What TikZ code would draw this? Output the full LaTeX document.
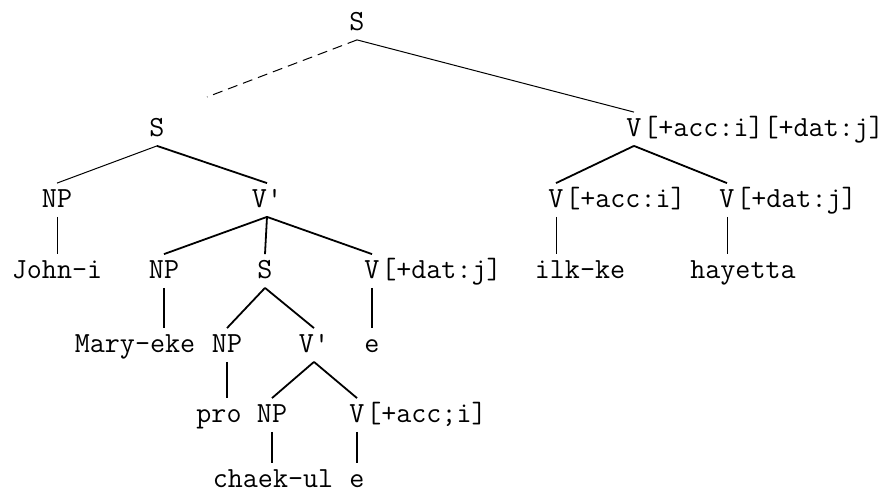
\documentclass[tikz,border=0pt]{standalone}
\usepackage{tikz}

\begin{document}
\begin{tikzpicture}[x=0.5pt,y=-0.5pt,line width=0.9pt,
tree node/.style={inner xsep=0pt,inner ysep=1pt,text height=11pt,text depth=3pt,font=\fontsize{14.6}{17}\ttfamily},
last node/.style={tree node,text depth=0pt},
feat/.style={tree node,label distance=0pt},
faint/.style={line width=0.5pt}]
\useasboundingbox (0,0) rectangle (890,496);

\node[tree node] (1) at (357,23) {S};
\node[tree node] (2) at (157,129) {S};
\node[tree node,label={[feat]east:{[+acc:i][+dat:j]}}] (3) at (634,129) {V};
\node[tree node] (4) at (57,200) {NP};
\node[tree node] (5) at (267,200) {V'};
\node[tree node,label={[feat]east:{[+acc:i]}}] (6) at (556,200) {V};
\node[tree node,label={[feat]east:{[+dat:j]}}] (7) at (727,200) {V};
\node[tree node] (8) at (57,271) {John-i};
\node[tree node] (9) at (164,271) {NP};
\node[tree node] (10) at (265,271) {S};
\node[tree node,label={[feat]east:{[+dat:j]}}] (11) at (372,271) {V};
\node[tree node] (12) at (580,271) {ilk-ke};
\node[tree node] (13) at (743,271) {hayetta};
\node[tree node] (14) at (135,345) {Mary-eke};
\node[tree node] (15) at (227,345) {NP};
\node[tree node] (16) at (314,345) {V'};
\node[tree node] (17) at (372,345) {e};
\node[tree node] (18) at (219,415) {pro};
\node[tree node] (19) at (272,415) {NP};
\node[tree node,label={[feat]east:{[+acc;i]}}] (20) at (357,415) {V};
\node[last node] (21) at (273,477) {chaek-ul};
\node[last node] (22) at (357,477) {e};
\coordinate (d) at (207,97);

\path
(1.south) edge[faint] (3.north)
(1.south) edge[faint,dash pattern=on 5pt off 3pt] (d)
(2.south) edge[faint] (4.north)
(2.south) edge (5.north)
(3.south) edge (6.north)
(3.south) edge (7.north)
(4.south) edge[faint] (4.south |- 8.north)
(5.south) edge (9.north)
(5.south) edge (10.north)
(5.south) edge (11.north)
(6.south) edge[faint] (6.south |- 12.north)
(7.south) edge[faint] (7.south |- 13.north)
(9.south) edge (9.south |- 14.north)
(10.south) edge (15.north)
(10.south) edge (16.north)
(11.south) edge (11.south |- 17.north)
(15.south) edge (15.south |- 18.north)
(16.south) edge (19.north)
(16.south) edge (20.north)
(19.south) edge (19.south |- 21.north)
(20.south) edge (20.south |- 22.north);
\end{tikzpicture}
\end{document}
